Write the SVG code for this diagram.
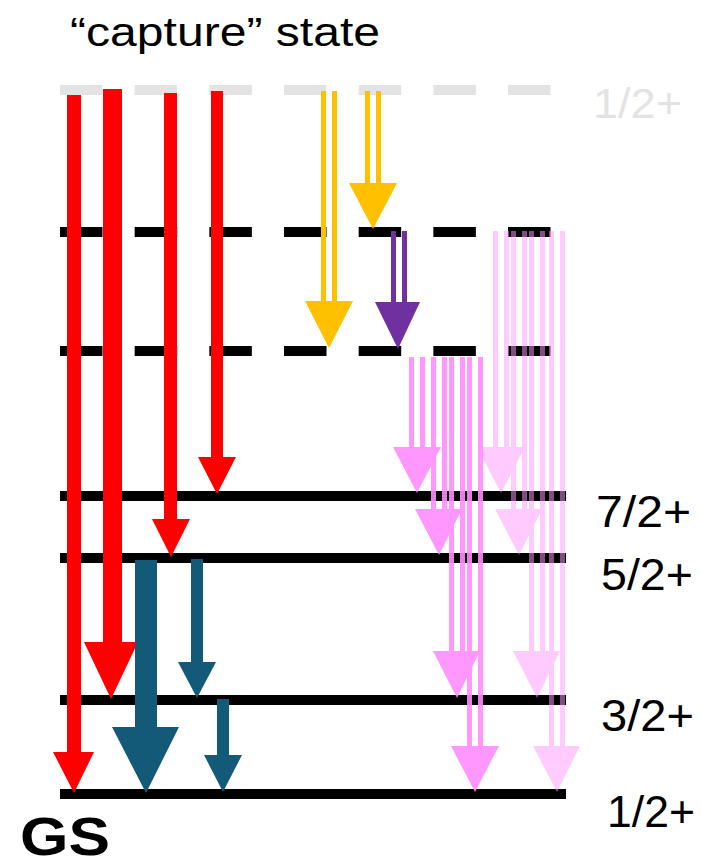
<svg xmlns="http://www.w3.org/2000/svg" width="702" height="862" viewBox="0 0 702 862">
  <style>
    text { font-family: "Liberation Sans", Arial, sans-serif; }
    .lbl { font-size: 44px; fill: #000; }
    .lvl { stroke: #000; stroke-width: 10; fill: none; }
    .dash { stroke-dasharray: 42.5 32.17; }
    .cap { stroke: #e3e3e3; }
    .red { fill: #ff0000; }
    .teal { fill: #125a78; }
    .yel { fill: #ffc000; }
    .pur { fill: #7030a0; }
    .pk { fill: #ff8cff; opacity: 0.9; }
    .pkl { fill: #ff99ff; opacity: 0.5; }
  </style>

  <!-- energy levels -->
  <g id="level-capture">
    <line class="lvl dash cap" x1="60" y1="90" x2="551" y2="90"/>
    <text x="70" y="46" font-size="41" textLength="310" lengthAdjust="spacingAndGlyphs">“capture” state</text>
    <text x="593" y="118" font-size="42" fill="#e3e3e3" textLength="89" lengthAdjust="spacingAndGlyphs">1/2+</text>
  </g>
  <g id="level-upper">
    <line class="lvl dash" x1="60" y1="232" x2="551" y2="232"/>
  </g>
  <g id="level-lower">
    <line class="lvl dash" x1="60" y1="351" x2="551" y2="351"/>
  </g>
  <g id="level-7-2">
    <line class="lvl" x1="60" y1="496" x2="566" y2="496"/>
    <text class="lbl" x="596" y="527" textLength="95" lengthAdjust="spacingAndGlyphs">7/2+</text>
  </g>
  <g id="level-5-2">
    <line class="lvl" x1="60" y1="558" x2="566" y2="558"/>
    <text class="lbl" x="601" y="590" textLength="92" lengthAdjust="spacingAndGlyphs">5/2+</text>
  </g>
  <g id="level-3-2">
    <line class="lvl" x1="60" y1="700" x2="566" y2="700"/>
    <text class="lbl" x="601" y="731" textLength="93" lengthAdjust="spacingAndGlyphs">3/2+</text>
  </g>
  <g id="level-gs">
    <line class="lvl" x1="60" y1="794" x2="566" y2="794"/>
    <text class="lbl" x="607" y="827" textLength="88" lengthAdjust="spacingAndGlyphs">1/2+</text>
    <text x="20" y="855" font-size="54" font-weight="bold" textLength="90" lengthAdjust="spacingAndGlyphs">GS</text>
  </g>

  <!-- transitions -->
  <g id="transitions">
    <!-- from capture state -->
    <polygon class="red" points="67,95 81,95 81,752 94,752 74,793 53,752 67,752"/>
    <polygon class="red" points="103,89 122,89 122,642 138,642 111,699 84,642 103,642"/>
    <polygon class="red" points="164,93 177,93 177,519 190,519 171,557 152,519 164,519"/>
    <polygon class="red" points="211,91 223,91 223,457 236,457 217,494 198,457 211,457"/>

    <!-- from 5/2+ and 3/2+ -->
    <polygon class="teal" points="135,560 157,560 157,727 179,727 146,793 112,727 135,727"/>
    <polygon class="teal" points="191,559 203,559 203,662 216,662 197,698 178,662 191,662"/>
    <polygon class="teal" points="217,699 229,699 229,755 242,755 223,792 204,755 217,755"/>

    <!-- capture to dashed levels -->
    <g class="yel">
      <rect x="321" y="91" width="5" height="211"/>
      <rect x="332" y="91" width="5" height="211"/>
      <polygon points="305,301 353,301 329,348"/>
      <rect x="365" y="91" width="5" height="93"/>
      <rect x="376" y="91" width="5" height="93"/>
      <polygon points="349,183 397,183 373,229"/>
    </g>
    <g class="pur">
      <rect x="391" y="231" width="5" height="72"/>
      <rect x="402" y="231" width="5" height="72"/>
      <polygon points="375,302 420,302 398,349"/>
    </g>

    <!-- lower dashed level cascade -->
    <g class="pk">
      <rect x="409" y="357" width="5" height="91"/>
      <rect x="420" y="357" width="5" height="91"/>
      <polygon points="393,447 441,447 417,493"/>
      <rect x="431" y="357" width="5" height="153"/>
      <rect x="442" y="357" width="5" height="153"/>
      <polygon points="415,509 462,509 439,555"/>
      <rect x="449" y="357" width="5" height="295"/>
      <rect x="460" y="357" width="5" height="295"/>
      <polygon points="433,651 480,651 457,698"/>
      <rect x="467" y="357" width="5" height="390"/>
      <rect x="478" y="357" width="5" height="390"/>
      <polygon points="451,746 499,746 475,792"/>
    </g>

    <!-- upper dashed level cascade -->
    <g class="pkl">
      <rect x="493" y="231" width="5" height="217"/>
      <rect x="504" y="231" width="5" height="217"/>
      <polygon points="477,447 525,447 501,493"/>
      <rect x="511" y="231" width="5" height="279"/>
      <rect x="522" y="231" width="5" height="279"/>
      <polygon points="495,509 542,509 519,555"/>
      <rect x="529" y="231" width="5" height="421"/>
      <rect x="540" y="231" width="5" height="421"/>
      <polygon points="513,651 560,651 537,698"/>
      <rect x="549" y="231" width="5" height="516"/>
      <rect x="560" y="231" width="5" height="516"/>
      <polygon points="533,746 580,746 557,792"/>
    </g>
  </g>
</svg>
